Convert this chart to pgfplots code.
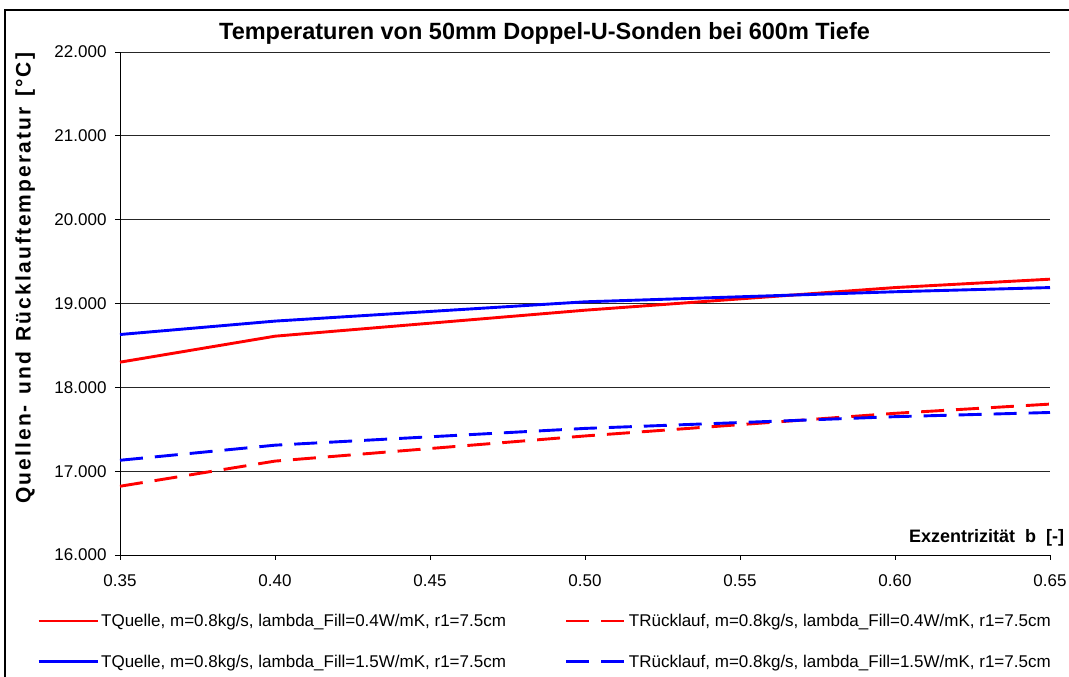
\documentclass[border=0pt]{standalone}
\usepackage{fontspec}
\setmainfont{Liberation Sans}
\usepackage{pgfplots}
\usepackage{pgfplotstable}
\pgfplotsset{compat=1.18}

% b, TQuelle / TRuecklauf (lambda 0.4 and 1.5)
\pgfplotstableread{
b    qa     qb     ra     rb
0.35 18.30  18.63  16.82  17.13
0.40 18.61  18.79  17.12  17.31
0.50 18.92  19.02  17.42  17.51
0.60 19.19  19.14  17.69  17.65
0.65 19.29  19.19  17.80  17.70
}\temps

\definecolor{xred}{RGB}{255,0,0}
\definecolor{xblue}{RGB}{0,0,255}

\begin{document}
\begin{tikzpicture}
\useasboundingbox (-120pt,-122pt) rectangle (949pt,555pt);
\draw[black, line width=1.2pt] (-115pt,-200pt) rectangle (1000pt,545pt);
\begin{axis}[
    at={(0pt,0pt)}, anchor=south west,
    scale only axis, width=930pt, height=503pt,
    xmin=0.35, xmax=0.65, ymin=16, ymax=22,
    xtick={0.35,0.40,0.45,0.50,0.55,0.60,0.65},
    ytick={16,17,18,19,20,21,22},
    axis x line*=bottom, axis y line*=left,
    axis line style={black, line width=0.8pt, -},
    tick align=outside, major tick length=5pt,
    tick style={black, line width=0.8pt},
    ymajorgrids, grid style={black!85, line width=0.8pt},
    /pgf/number format/assume math mode=true,
    ticklabel style={font=\fontsize{17}{20}\selectfont},
    xticklabel style={yshift=-11pt, /pgf/number format/.cd, fixed, fixed zerofill, precision=2},
    yticklabel style={xshift=-5pt, /pgf/number format/.cd, fixed, fixed zerofill, precision=3, 1000 sep={}},
    title={Temperaturen von 50mm Doppel-U-Sonden bei 600m Tiefe},
    title style={at={(axis description cs:0.4565,1.025)}, anchor=center, font=\fontsize{23.5}{28}\selectfont\bfseries},
    xlabel={Exzentrizität\ \ b\ \ [-]},
    xlabel style={at={(axis description cs:1.019,0.034)}, anchor=east, font=\fontsize{18}{21}\selectfont\bfseries},
    ylabel={Quellen-\hspace{0.5em}und\hspace{0.5em}Rücklauftemperatur\hspace{0.5em}[°C]},
    ylabel style={at={(axis description cs:-0.102,0.55)}, anchor=center,
        font=\fontsize{21}{24}\selectfont\bfseries\addfontfeatures{LetterSpace=10}},
    legend columns=2,
    legend cell align=left,
    legend image code/.code={\draw[#1] (0pt,0pt) -- (59pt,0pt);},
    legend style={at={(axis description cs:-0.0892,-0.113)}, anchor=north west,
        draw=none, fill=none, inner sep=0pt, row sep=23pt,
        font=\fontsize{17}{19}\selectfont,
        /tikz/every even column/.append style={column sep=57pt}},
  ]
  \addplot[xred, line width=2.9pt] table[x=b, y=qa] {\temps};
  \addlegendentry{TQuelle, m=0.8kg/s, lambda\_Fill=0.4W/mK, r1=7.5cm}
  \addplot[xred, line width=2.9pt, dash pattern=on 23pt off 12pt] table[x=b, y=ra] {\temps};
  \addlegendentry{TRücklauf, m=0.8kg/s, lambda\_Fill=0.4W/mK, r1=7.5cm}
  \addplot[xblue, line width=2.9pt] table[x=b, y=qb] {\temps};
  \addlegendentry{TQuelle, m=0.8kg/s, lambda\_Fill=1.5W/mK, r1=7.5cm}
  \addplot[xblue, line width=2.9pt, dash pattern=on 23pt off 12pt] table[x=b, y=rb] {\temps};
  \addlegendentry{TRücklauf, m=0.8kg/s, lambda\_Fill=1.5W/mK, r1=7.5cm}
\end{axis}
\end{tikzpicture}
\end{document}
